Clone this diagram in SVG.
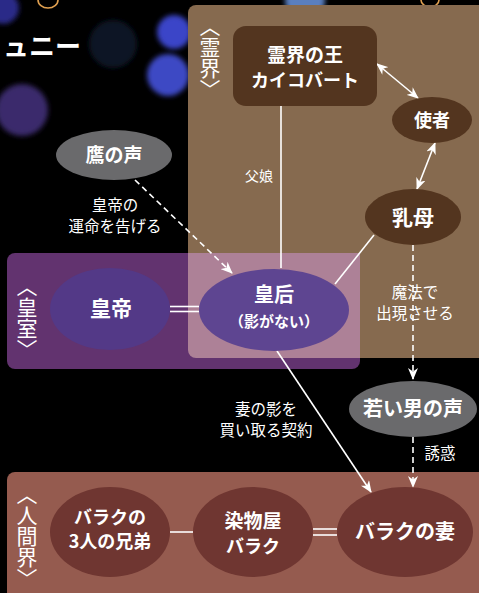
<svg xmlns="http://www.w3.org/2000/svg" width="479" height="593" viewBox="0 0 479 593">
<defs>
  <style>
    .nodeT{font-family:"Noto Sans CJK JP","Noto Sans",sans-serif;font-weight:700;fill:#fff;text-anchor:middle}
    .lbl{font-family:"Noto Sans CJK JP","Noto Sans",sans-serif;font-weight:400;fill:#fff;text-anchor:middle;font-size:15.5px}
    .realm{font-family:"Noto Sans CJK JP",serif;font-weight:400;fill:#fff;font-size:21px;writing-mode:vertical-rl;text-anchor:start}
    .ln{stroke:#fff;stroke-width:1.6;fill:none}
    .dash{stroke:#fff;stroke-width:1.6;fill:none;stroke-dasharray:6 4}
    .brownN{fill:#53351f}
    .grayN{fill:#6a6a6c}
    .humN{fill:#6f3631}
  </style>
  <marker id="ah" viewBox="0 0 12 10" refX="11" refY="5" markerWidth="12" markerHeight="10" markerUnits="userSpaceOnUse" orient="auto-start-reverse">
    <path d="M0,0 L12,5 L0,10 L3.5,5 z" fill="#fff"/>
  </marker>
  <filter id="blur" x="-50%" y="-50%" width="200%" height="200%"><feGaussianBlur stdDeviation="2.5"/></filter>
</defs>
<rect width="479" height="593" fill="#000"/>
<g id="bokeh" filter="url(#blur)">
  <circle cx="113" cy="44" r="24" fill="#101828" opacity="0.9"/>
  <circle cx="174" cy="32" r="17" fill="#3a45c8"/>
  <circle cx="168" cy="75" r="21" fill="#3c48c4"/>
  <circle cx="22" cy="110" r="26" fill="#3a2a6c"/>
  <circle cx="3" cy="8" r="16" fill="#2c2a88"/>
  <circle cx="305" cy="0" r="20" fill="#5a7fbf"/>
</g>
<path d="M38,0 A10,8 0 0 0 58,0" fill="none" stroke="#e0a050" stroke-width="1.6"/>
<path d="M421,0 A9,7 0 0 0 439,0" fill="none" stroke="#e0a050" stroke-width="1.6"/>
<text x="3" y="56" style="font-family:'Noto Sans CJK JP',sans-serif;font-weight:700;font-size:26px;fill:#fff">ュニー</text>

<g id="realm-spirit">
  <rect x="188" y="5" width="300" height="353" rx="8" fill="#866a4f"/>
</g>
<g id="realm-imperial">
  <rect x="7" y="253" width="353" height="116" rx="8" fill="#62336f"/>
  <path d="M188,253 H360 V358 H196 A8,8 0 0 1 188,350 Z" fill="#ad8197"/>
</g>
<g id="realm-human">
  <rect x="7" y="472" width="490" height="140" rx="8" fill="#955b4f"/>
</g>
<text class="realm" x="210" y="16">〈霊界〉</text>
<text class="realm" x="27" y="276">〈皇室〉</text>
<text class="realm" x="27" y="484">〈人間界〉</text>

<g id="connectors">
  <line class="ln" x1="281" y1="106" x2="281" y2="268"/>
  <line class="ln" x1="377" y1="64" x2="418" y2="98" marker-start="url(#ah)" marker-end="url(#ah)"/>
  <line class="ln" x1="435" y1="143" x2="417" y2="189" marker-start="url(#ah)" marker-end="url(#ah)"/>
  <line class="ln" x1="374" y1="235" x2="335" y2="284"/>
  <line class="dash" x1="135" y1="180" x2="232" y2="273" marker-end="url(#ah)"/>
  <line class="ln" x1="170" y1="306.5" x2="199" y2="306.5"/>
  <line class="ln" x1="170" y1="311.5" x2="199" y2="311.5"/>
  <line class="dash" x1="413" y1="245" x2="413" y2="379" marker-end="url(#ah)"/>
  <line class="dash" x1="413" y1="437" x2="413" y2="487" marker-end="url(#ah)"/>
  <line class="ln" x1="277" y1="351" x2="371" y2="492" marker-end="url(#ah)"/>
  <line class="ln" x1="170" y1="532" x2="193" y2="532"/>
  <line class="ln" x1="313" y1="529" x2="337" y2="529"/>
  <line class="ln" x1="313" y1="535" x2="337" y2="535"/>
  <text class="lbl" x="259" y="181" style="font-size:14px">父娘</text>
  <text class="lbl" x="115" y="211">皇帝の</text>
  <text class="lbl" x="115" y="232">運命を告げる</text>
  <text class="lbl" x="415" y="298">魔法で</text>
  <text class="lbl" x="415" y="319">出現させる</text>
  <text class="lbl" x="266" y="415">妻の影を</text>
  <text class="lbl" x="266" y="436">買い取る契約</text>
  <text class="lbl" x="440" y="459">誘惑</text>
</g>

<g id="node-king">
  <rect class="brownN" x="233" y="26" width="144" height="80" rx="13"/>
  <text class="nodeT" x="305" y="62" style="font-size:19px">霊界の王</text>
  <text class="nodeT" x="305" y="87" style="font-size:18px">カイコバート</text>
</g>
<g id="node-messenger">
  <ellipse class="brownN" cx="432" cy="120" rx="40" ry="23"/>
  <text class="nodeT" x="432" y="127" style="font-size:18px">使者</text>
</g>
<g id="node-nurse">
  <ellipse class="brownN" cx="413" cy="217" rx="48" ry="28"/>
  <text class="nodeT" x="413" y="225" style="font-size:21px">乳母</text>
</g>
<g id="node-hawk">
  <ellipse class="grayN" cx="114" cy="155" rx="58" ry="25"/>
  <text class="nodeT" x="114" y="162" style="font-size:19px">鷹の声</text>
</g>
<g id="node-emperor">
  <ellipse cx="110" cy="309" rx="60" ry="41" fill="#533987"/>
  <text class="nodeT" x="111" y="316" style="font-size:21px">皇帝</text>
</g>
<g id="node-empress">
  <ellipse cx="274" cy="310" rx="75" ry="41" fill="#5e4591"/>
  <text class="nodeT" x="274" y="302" style="font-size:20px">皇后</text>
  <text class="nodeT" x="274" y="327" style="font-size:15px">（影がない）</text>
</g>
<g id="node-youngman">
  <ellipse class="grayN" cx="413" cy="409" rx="64" ry="28"/>
  <text class="nodeT" x="413" y="416" style="font-size:20px">若い男の声</text>
</g>
<g id="node-brothers">
  <ellipse class="humN" cx="110" cy="532" rx="60" ry="45"/>
  <text class="nodeT" x="110" y="524" style="font-size:18px">バラクの</text>
  <text class="nodeT" x="110" y="548" style="font-size:18px">3人の兄弟</text>
</g>
<g id="node-barak">
  <ellipse class="humN" cx="253" cy="532" rx="60" ry="45"/>
  <text class="nodeT" x="253" y="528" style="font-size:19px">染物屋</text>
  <text class="nodeT" x="253" y="553" style="font-size:18px">バラク</text>
</g>
<g id="node-wife">
  <ellipse class="humN" cx="405" cy="532" rx="68" ry="45"/>
  <text class="nodeT" x="405" y="539" style="font-size:20px">バラクの妻</text>
</g>
</svg>
